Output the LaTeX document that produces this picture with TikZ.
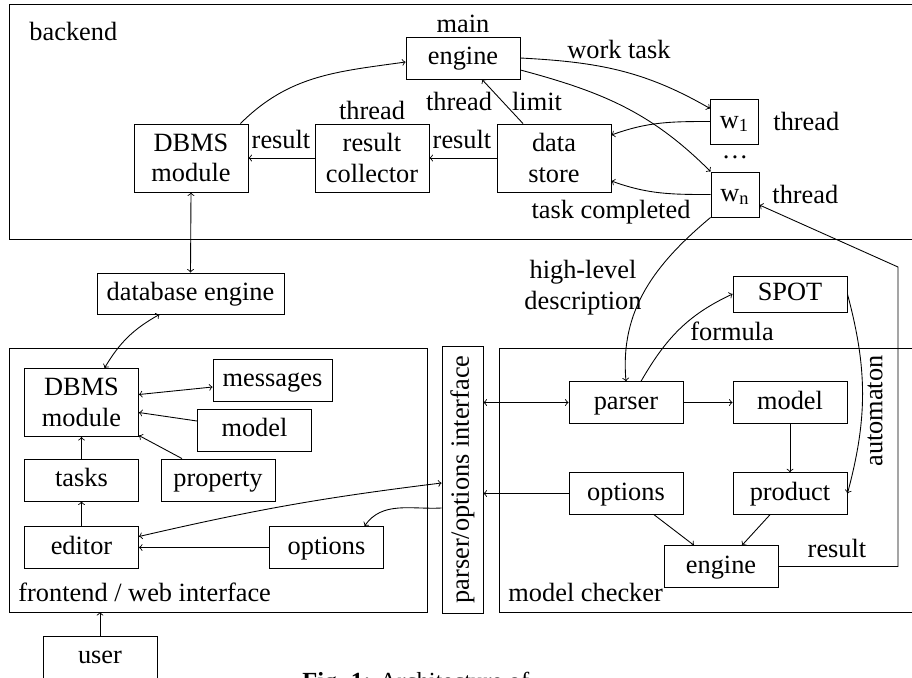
\documentclass[tikz,border=0pt]{standalone}
\usepackage{fontspec}
\setmainfont{Liberation Serif}
\usetikzlibrary{calc}
\begin{document}
\begin{tikzpicture}[x=0.02cm, y=-0.02cm, line width=0.5pt, >=to,
  every node/.style={font=\fontsize{15}{17.5}\selectfont},
  box/.style={draw, inner sep=0pt, minimum width=2.28cm, minimum height=0.84cm, text height=11pt, text depth=3.5pt},
  tall/.style={draw, inner sep=0pt, minimum width=2.28cm, minimum height=1.36cm, align=center},
  wbox/.style={box, minimum width=0.96cm, minimum height=0.9cm},
  lbl/.style={inner sep=0pt, anchor=base}]
\useasboundingbox (0,0) rectangle (912,677);
\clip (0,0) rectangle (912,677);
\fill[white] (0,0) rectangle (912,677);

% containers
\draw (9,4) rectangle (930,239);
\draw (9,348) rectangle (427,612);
\draw (499,348) rectangle (930,612);

% backend
\node[box] (engine) at (463,58) {engine};
\node[tall] (dbmsB) at (191,158) {DBMS\\module};
\node[tall] (coll) at (372,158) {result\\collector};
\node[tall] (store) at (554,158) {data\\store};
\node[wbox] (w1) at (734.5,121.5) {w\textsubscript{1}};
\node[wbox] (wn) at (735,194.5) {w\textsubscript{n}};
\node[inner sep=0pt] (dots) at (735,157) {\dots};

\node[box, minimum width=3.74cm, minimum height=0.82cm] (dbE) at (190.5,293.5) {database engine};

% frontend
\node[tall] (dbmsF) at (81.5,402.5) {DBMS\\module};
\node[box, minimum width=2.38cm] (msg) at (272.5,380) {messages};
\node[box] (modelF) at (254.5,430) {model};
\node[box] (prop) at (218,480) {property};
\node[box] (tasks) at (81.5,480) {tasks};
\node[box] (editor) at (81.5,547.5) {editor};
\node[box] (optF) at (326.5,547.5) {options};
\node[box] (user) at (100,657) {user};

% interface
\node[draw, inner sep=0pt, minimum width=0.82cm, minimum height=5.34cm] (iface) at (462.5,479.5) {};
\node[rotate=90, inner sep=0pt] (ifacetext) at (iface) {parser/options interface};

% model checker
\node[box, minimum height=0.83cm] (parser) at (626,402.5) {parser};
\node[box, minimum height=0.83cm] (modelM) at (790,402.5) {model};
\node[box, minimum height=0.72cm] (spot) at (790,294) {SPOT};
\node[box, minimum height=0.83cm] (optM) at (626,493.5) {options};
\node[box, minimum height=0.83cm] (prod) at (790,493.5) {product};
\node[box, minimum height=0.83cm] (engM) at (721,566.5) {engine};

% labels
\node[lbl, anchor=base west] at (29,40) {backend};
\node[lbl] at (463,32) {main};
\node[lbl] at (619,58) {work task};
\node[lbl] at (372,119) {thread};
\node[lbl] at (281,148) {result};
\node[lbl] at (462,148) {result};
\node[lbl] at (459,110) {thread};
\node[lbl] at (537,110) {limit};
\node[lbl, anchor=base west] at (773,130) {thread};
\node[lbl, anchor=base west] at (772,203) {thread};
\node[lbl] at (611,218) {task completed};
\node[align=center, inner sep=0pt] at (583,288) {high-level\\description};
\node[lbl] at (732,340) {formula};
\node[rotate=90, inner sep=0pt] at (875,411) {automaton};
\node[lbl] at (837,557) {result};
\node[lbl, anchor=base west] at (18,601) {frontend / web interface};
\node[lbl, anchor=base west] at (508,601) {model checker};
\node[lbl, anchor=base west, font=\fontsize{14}{16}\selectfont] at (302,689) {\textbf{Fig. 1:} Architecture of};

% backend connectors
\draw[->] ([xshift=-0.16cm]dbmsB.north east) to[out=45,in=188] ([yshift=-0.08cm]engine.west);
\draw[->] (coll.west) -- (dbmsB.east);
\draw[->] (store.west) -- (coll.east);
\draw[->] ([xshift=-0.62cm]store.north) -- ([xshift=0.38cm]engine.south);
\draw[->] (engine.east) to[out=-3,in=150] ([yshift=0.26cm]w1.west);
\draw[->] ([yshift=-0.24cm]engine.east) to[out=-15,in=135] (wn.north west);
\draw[->] (w1.west) to[out=180,in=20] ([yshift=0.46cm]store.east);
\draw[->] (wn.west) to[out=180,in=-20] ([yshift=-0.46cm]store.east);

\draw[<->] (dbE.north) -- (dbmsB.south);
\draw[<->] ([xshift=-0.62cm]dbE.south) to[bend right=15] ([xshift=0.46cm]dbmsF.north);

% frontend connectors
\draw[<->] ([yshift=0.16cm]dbmsF.east) -- ([yshift=-0.14cm]msg.west);
\draw[->] ([yshift=0.18cm]modelF.west) -- ([yshift=-0.2cm]dbmsF.east);
\draw[->] ([xshift=-0.72cm]prop.north) -- ([yshift=-0.66cm]dbmsF.east);
\draw[->] (tasks.north) -- (dbmsF.south);
\draw[->] (editor.north) -- (tasks.south);
\draw[->] (optF.west) -- (editor.east);
\draw[<->] ([yshift=0.22cm]editor.east) to[bend left=3] ([yshift=-0.07cm]iface.west);
\draw[->] ([yshift=-0.57cm]iface.west) to[out=183,in=55] ([xshift=0.76cm]optF.north);
\draw[->] (user.north) -- (user.north |- 0,612);

% model checker connectors
\draw[<->] (iface.east |- parser.west) -- (parser.west);
\draw[->] (parser.east) -- (modelM.west);
\draw[->] (modelM.south) -- (prod.north);
\draw[->] (optM.west) -- (iface.east |- optM.west);
\draw[->] ([xshift=0.56cm]optM.south) -- ([xshift=-0.54cm]engM.north);
\draw[->] ([xshift=-0.4cm]prod.south) -- ([xshift=0.42cm]engM.north);
\draw[->] (spot.east) to[out=-75,in=75] (prod.east);
\draw[->] ([xshift=0.3cm]parser.north) to[out=60,in=205] (spot.west);
\draw[->] (wn.south west) to[out=-140,in=95] (parser.north);
\coordinate (r1) at (898,566.5);
\coordinate (r2) at (898,267);
\draw[->] (engM.east) -- (r1) -- (r2) -- ([yshift=-0.21cm]wn.east);
\end{tikzpicture}
\end{document}
